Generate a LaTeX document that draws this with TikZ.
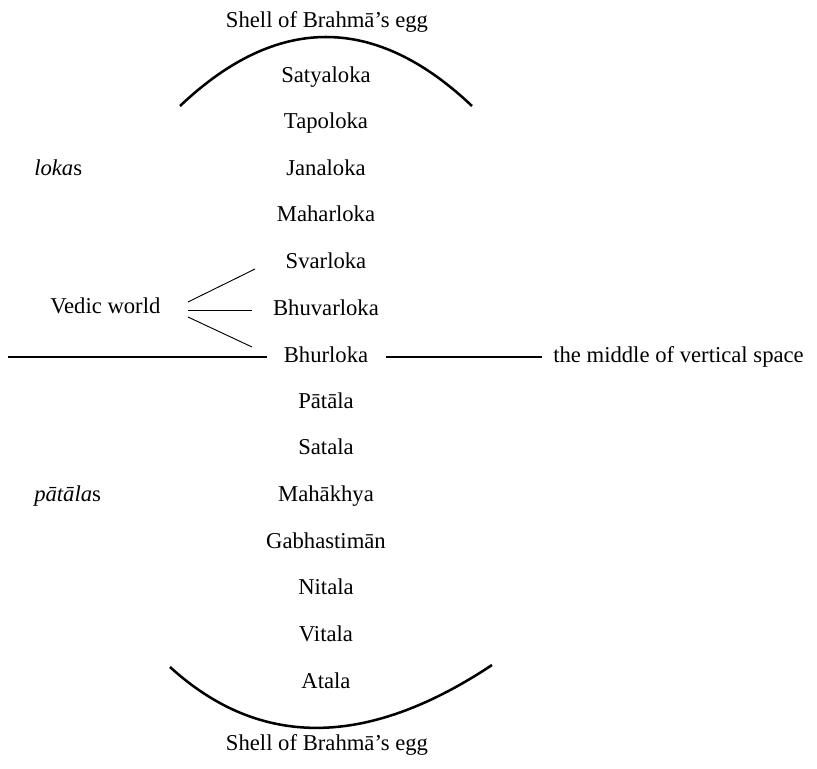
\documentclass[tikz,border=0pt]{standalone}
\usepackage{fontspec}
\setmainfont{Liberation Serif}
\begin{document}
\begin{tikzpicture}[x=0.75pt,y=-0.75pt,
  lbl/.style={anchor=base,inner sep=0pt,font=\fontsize{17}{20}\selectfont},
  lblw/.style={lbl,anchor=base west},
  shell/.style={line width=1.9pt},
  rule/.style={line width=1.4pt},
  thin/.style={line width=0.7pt}]
\useasboundingbox (0,0) rectangle (817,768);
\node[lbl] (shtop) at (327,27) {Shell of Brahmā’s egg};
\node[lbl] (satya) at (326,82) {Satyaloka};
\node[lbl] (tapo) at (326,128.6) {Tapoloka};
\node[lbl] (jana) at (326,175.2) {Janaloka};
\node[lbl] (mahar) at (326,221.8) {Maharloka};
\node[lbl] (svar) at (326,268.4) {Svarloka};
\node[lbl] (bhuvar) at (326,315) {Bhuvarloka};
\node[lbl] (bhur) at (326,362) {Bhurloka};
\node[lbl] (patala) at (326,408.2) {Pātāla};
\node[lbl] (satala) at (326,454.8) {Satala};
\node[lbl] (mahakhya) at (326,501.4) {Mahākhya};
\node[lbl] (gabh) at (326,548) {Gabhastimān};
\node[lbl] (nitala) at (326,594.6) {Nitala};
\node[lbl] (vitala) at (326,641.2) {Vitala};
\node[lbl] (atala) at (326,688) {Atala};
\node[lbl] (shbot) at (327,750) {Shell of Brahmā’s egg};
\node[lblw] (lokas) at (34,175.2) {\textit{loka}s};
\node[lblw] (patalas) at (34,501.4) {\textit{pātāla}s};
\node[lblw] (vedic) at (50,313) {Vedic world};
\node[lblw] (middle) at (553,362) {the middle of vertical space};
% top and bottom shells
\draw[shell] (180,106) .. controls (277,14) and (375,14) .. (472,106);
\draw[shell] (170,667) .. controls (260,749) and (367,748) .. (492,665);
% Vedic world connectors
\coordinate (v1) at (188,302);
\coordinate (v2) at (188,310);
\coordinate (v3) at (188,317);
\coordinate (s1) at (255,269);
\coordinate (s2) at (252,310);
\coordinate (s3) at (252,347);
\draw[thin] (v1) -- (s1);
\draw[thin] (v2) -- (s2);
\draw[thin] (v3) -- (s3);
% middle line
\coordinate (hl) at (8,357);
\coordinate (hl2) at (267,357);
\coordinate (hr1) at (386,357);
\coordinate (hr2) at (542,357);
\draw[rule] (hl) -- (hl2);
\draw[rule] (hr1) -- (hr2);
\end{tikzpicture}
\end{document}
